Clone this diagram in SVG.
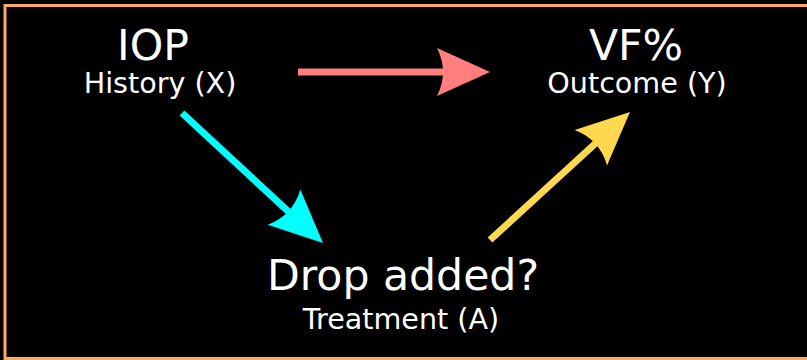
<svg xmlns="http://www.w3.org/2000/svg" width="807" height="360" viewBox="0 0 807 360">
<style>
.t{font-family:"DejaVu Sans",sans-serif;fill:#fff;text-anchor:middle}
.big{font-size:42.6px}
.sm{font-size:28.6px}
.ln{stroke-width:7;fill:none}
</style>
<defs>
<path id="head" d="M0 0 L-53 -24 Q-41 0 -53 24 Z"/>
</defs>
<rect width="807" height="360" fill="#000"/>
<rect x="5" y="5.5" width="820" height="353" fill="none" stroke="#FFAA5F" stroke-width="3"/>
<g id="connectors">
<g id="x-to-y">
<line class="ln" x1="298" y1="72" x2="446" y2="72" stroke="#FF7F7F"/>
<use href="#head" fill="#FF7F7F" transform="translate(490,72)"/>
</g>
<g id="x-to-a">
<line class="ln" x1="182" y1="113" x2="290" y2="213" stroke="#00FFFF"/>
<use href="#head" fill="#00FFFF" transform="translate(323,243) rotate(42.7)"/>
</g>
<g id="a-to-y">
<line class="ln" x1="490" y1="240" x2="597" y2="142" stroke="#FFD850"/>
<use href="#head" fill="#FFD850" transform="translate(630,112) rotate(-42.4)"/>
</g>
</g>
<g id="node-x">
<text class="t big" x="153" y="60">IOP</text>
<text class="t sm" x="160" y="93">History (X)</text>
</g>
<g id="node-y">
<text class="t big" x="636" y="60">VF%</text>
<text class="t sm" x="637" y="93">Outcome (Y)</text>
</g>
<g id="node-a">
<text class="t big" x="403" y="290">Drop added?</text>
<text class="t sm" x="401" y="329">Treatment (A)</text>
</g>
</svg>
